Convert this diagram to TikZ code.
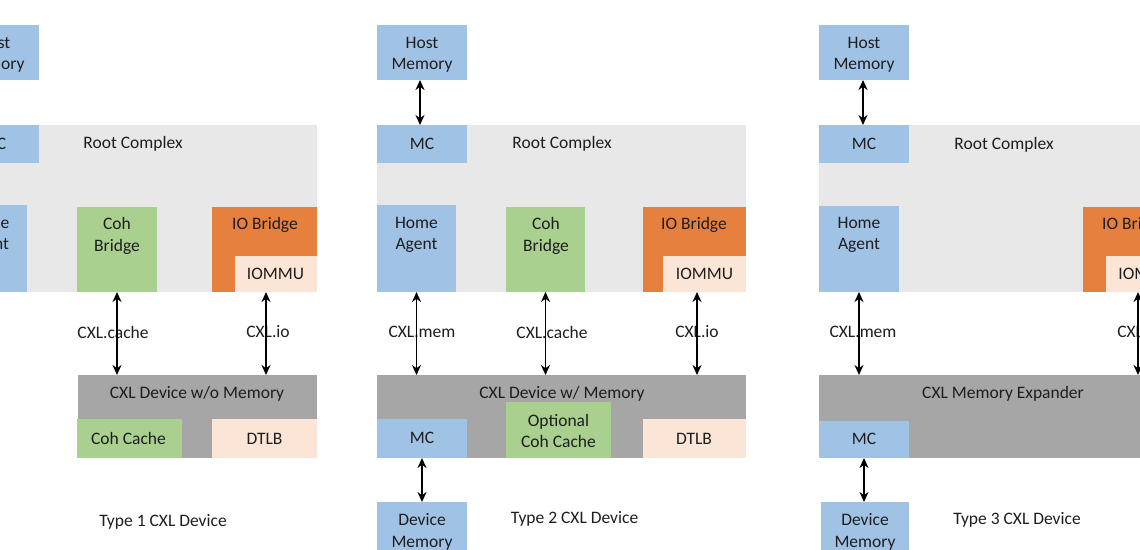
\documentclass[tikz,border=0pt]{standalone}
\usepackage{fontspec}
\setmainfont{Carlito}
\usetikzlibrary{arrows.meta}
\definecolor{cxblue}{RGB}{160,195,229}
\definecolor{cxgreen}{RGB}{169,208,142}
\definecolor{cxorange}{RGB}{230,128,62}
\definecolor{cxpeach}{RGB}{251,229,214}
\definecolor{cxlgray}{RGB}{232,232,232}
\definecolor{cxdgray}{RGB}{166,166,166}
\definecolor{cxtext}{RGB}{30,30,30}
\tikzset{
  box/.style={rectangle, draw=none, inner sep=0pt, outer sep=0pt, anchor=north west},
  bluebox/.style={box, fill=cxblue},
  greenbox/.style={box, fill=cxgreen},
  orangebox/.style={box, fill=cxorange},
  peachbox/.style={box, fill=cxpeach},
  rcbox/.style={box, fill=cxlgray},
  devbox/.style={box, fill=cxdgray},
  txt/.style={font=\fontsize{17.5}{21.7}\selectfont, text=cxtext, inner sep=0pt, align=center},
  arr/.style={line width=1.9pt, draw=black, {Stealth[length=10pt,width=9pt]}-{Stealth[length=10pt,width=9pt]}}
}
\begin{document}
\begin{tikzpicture}[x=1pt,y=-1pt]
\useasboundingbox (0,0) rectangle (1140,549);
\fill[white] (0,0) rectangle (1140,549);
\clip (0,0) rectangle (1140,549);

% ---------------- Panel 1 ----------------
\node[bluebox, minimum width=91pt, minimum height=55pt] (hm1) at (-52,25) {};
\node[rcbox, minimum width=369pt, minimum height=167pt] (rc1) at (-52,125) {};
\node[bluebox, minimum width=91pt, minimum height=38pt] (mc1) at (-52,125) {};
\node[bluebox, minimum width=79pt, minimum height=87pt] (ha1) at (-52,205) {};
\node[greenbox, minimum width=80pt, minimum height=85pt] (cb1) at (77,207) {};
\node[orangebox, minimum width=105pt, minimum height=85pt] (io1) at (212,207) {};
\node[peachbox, minimum width=82pt, minimum height=36pt] (iommu1) at (235,256) {};
\node[devbox, minimum width=239pt, minimum height=83pt] (dev1) at (78,375) {};
\node[greenbox, minimum width=105pt, minimum height=39pt] (cc1) at (77,419) {};
\node[peachbox, minimum width=105pt, minimum height=39pt] (dtlb1) at (212,419) {};

\node[txt] (thm1) at (-6,54.75) {Host\\Memory};
\node[txt] (tmc1) at (-6,144) {MC};
\node[txt] (trc1) at (133,143.5) {Root Complex};
\node[txt] (tha1) at (-12,235) {Home\\Agent};
\node[txt] (tcb1) at (117,236) {Coh\\Bridge};
\node[txt] (tio1) at (265,225) {IO Bridge};
\node[txt] (tiommu1) at (275.5,274) {IOMMU};
\node[txt] (ldc1) at (113,332) {CXL.cache};
\node[txt] (ldi1) at (268,332) {CXL.io};
\node[txt] (tdev1) at (197,393.75) {CXL Device w/o Memory};
\node[txt] (tcc1) at (128.5,438) {Coh Cache};
\node[txt] (tdtlb1) at (264.5,439) {DTLB};
\node[txt] (ttype1) at (163,521.75) {Type 1 CXL Device};

\draw[arr] (hm1.south) -- (mc1.north);
\draw[arr] (cb1.south) -- (cb1.south |- dev1.north);
\draw[arr] ([xshift=1.5pt]io1.south) -- ([xshift=1.5pt]io1.south |- dev1.north);

% ---------------- Panel 2 ----------------
\node[bluebox, minimum width=90pt, minimum height=55pt] (hm2) at (377,25) {};
\node[rcbox, minimum width=369pt, minimum height=167pt] (rc2) at (377,125) {};
\node[bluebox, minimum width=90pt, minimum height=38pt] (mc2) at (377,125) {};
\node[bluebox, minimum width=79pt, minimum height=87pt] (ha2) at (377,205) {};
\node[greenbox, minimum width=79pt, minimum height=85pt] (cb2) at (506,207) {};
\node[orangebox, minimum width=103pt, minimum height=85pt] (io2) at (643,207) {};
\node[peachbox, minimum width=83pt, minimum height=36pt] (iommu2) at (663,256) {};
\node[devbox, minimum width=369pt, minimum height=83pt] (dev2) at (377,375) {};
\node[bluebox, minimum width=90pt, minimum height=39pt] (mcd2) at (377,419) {};
\node[greenbox, minimum width=105pt, minimum height=56pt] (occ2) at (506,402) {};
\node[peachbox, minimum width=103pt, minimum height=39pt] (dtlb2) at (643,419) {};
\node[bluebox, minimum width=90pt, minimum height=60pt] (dm2) at (377,502) {};

\node[txt] (thm2) at (422,54.75) {Host\\Memory};
\node[txt] (tmc2) at (422,144) {MC};
\node[txt] (trc2) at (562,143.5) {Root Complex};
\node[txt] (tha2) at (416.5,235) {Home\\Agent};
\node[txt] (tcb2) at (546,236) {Coh\\Bridge};
\node[txt] (tio2) at (694,225) {IO Bridge};
\node[txt] (tiommu2) at (704.5,274) {IOMMU};
\node[txt] (ldm2) at (422,332) {CXL.mem};
\node[txt] (ldc2) at (552,332) {CXL.cache};
\node[txt] (ldi2) at (697,332) {CXL.io};
\node[txt] (tdev2) at (562,393.75) {CXL Device w/ Memory};
\node[txt] (tmcd2) at (422,438) {MC};
\node[txt] (tocc2) at (558.5,431) {Optional\\Coh Cache};
\node[txt] (tdtlb2) at (694,439) {DTLB};
\node[txt] (tdm2) at (422,532) {Device\\Memory};
\node[txt] (ttype2) at (574.5,518.75) {Type 2 CXL Device};

\draw[arr] ([xshift=-2pt]hm2.south) -- ([xshift=-2pt]mc2.north);
\draw[arr] (ha2.south) -- (ha2.south |- dev2.north);
\draw[arr] (cb2.south) -- (cb2.south |- dev2.north);
\draw[arr] ([xshift=2.5pt]io2.south) -- ([xshift=2.5pt]io2.south |- dev2.north);
\draw[arr] (mcd2.south) -- (dm2.north);

% ---------------- Panel 3 ----------------
\node[bluebox, minimum width=90pt, minimum height=55pt] (hm3) at (819,25) {};
\node[rcbox, minimum width=400pt, minimum height=167pt] (rc3) at (819,125) {};
\node[bluebox, minimum width=90pt, minimum height=38pt] (mc3) at (819,125) {};
\node[bluebox, minimum width=80pt, minimum height=86pt] (ha3) at (819,206) {};
\node[orangebox, minimum width=103pt, minimum height=85pt] (io3) at (1083,207) {};
\node[peachbox, minimum width=83pt, minimum height=36pt] (iommu3) at (1106,256) {};
\node[devbox, minimum width=400pt, minimum height=83pt] (dev3) at (819,375) {};
\node[bluebox, minimum width=90pt, minimum height=37pt] (mcd3) at (819,421) {};
\node[bluebox, minimum width=88pt, minimum height=60pt] (dm3) at (821,502) {};

\node[txt] (thm3) at (864,54.75) {Host\\Memory};
\node[txt] (tmc3) at (864,144) {MC};
\node[txt] (trc3) at (1004,144.5) {Root Complex};
\node[txt] (tha3) at (859,235) {Home\\Agent};
\node[txt] (tio3) at (1135,225) {IO Bridge};
\node[txt] (tiommu3) at (1147,274) {IOMMU};
\node[txt] (ldm3) at (863,332) {CXL.mem};
\node[txt] (ldi3) at (1139,332) {CXL.io};
\node[txt] (tdev3) at (1003,393.75) {CXL Memory Expander};
\node[txt] (tmcd3) at (864,439) {MC};
\node[txt] (tdm3) at (865,532) {Device\\Memory};
\node[txt] (ttype3) at (1017,519.75) {Type 3 CXL Device};

\draw[arr] ([xshift=-1pt]hm3.south) -- ([xshift=-1pt]mc3.north);
\draw[arr] (ha3.south) -- (ha3.south |- dev3.north);
\draw[arr] ([xshift=3.5pt]io3.south) -- ([xshift=3.5pt]io3.south |- dev3.north);
\draw[arr] (mcd3.south) -- (mcd3.south |- dm3.north);
\end{tikzpicture}
\end{document}
